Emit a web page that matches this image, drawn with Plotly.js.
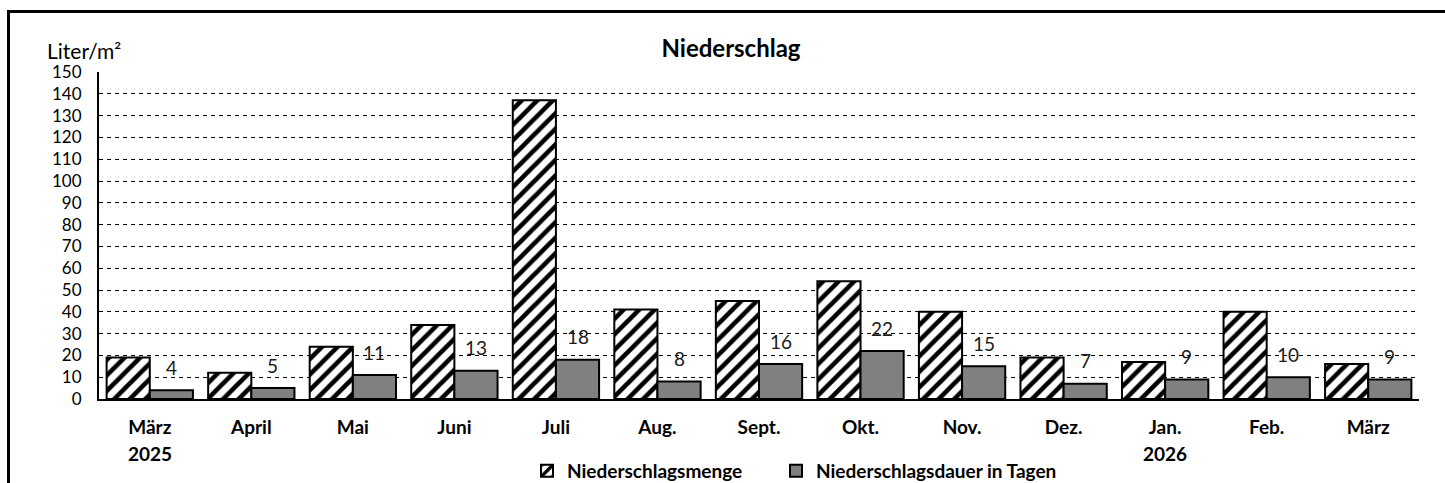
<!DOCTYPE html>
<html>
<head>
<meta charset="utf-8">
<script src="https://cdn.plot.ly/plotly-3.0.1.min.js"></script>
<style>
  html, body { margin: 0; padding: 0; background: #fff; }
  #wrap { position: relative; width: 1445px; height: 483px; overflow: hidden; }
  #chart { width: 1445px; height: 483px; }
  #frame { position: absolute; left: 7px; top: 10px; width: 1500px; height: 600px;
           border-left: 3px solid #000; border-top: 3px solid #000; pointer-events: none; }
</style>
</head>
<body>
<div id="wrap">
  <div id="chart"></div>
  <div id="frame"></div>
</div>
<script>
const months = ["März","April","Mai","Juni","Juli","Aug.","Sept.","Okt.","Nov.","Dez.","Jan.","Feb.","März"];
const years  = ["2025","","","","","","","","","","2026","",""];
const menge  = [19, 12, 24, 34, 137, 41, 45, 54, 40, 19, 17, 40, 16];
const dauer  = [4, 5, 11, 13, 18, 8, 16, 22, 15, 7, 9, 10, 9];
const yTicks = [0,10,20,30,40,50,60,70,80,90,100,110,120,130,140,150];

const idx = months.map((_, i) => i);
const FONT = "Lato, 'Open Sans', sans-serif";

const traces = [
  {
    type: "bar", name: "Niederschlagsmenge", x: idx, y: menge, legend: "legend",
    marker: {
      color: "#ffffff",
      line: { color: "#000", width: 2 },
      pattern: { shape: "/", fgcolor: "#000", bgcolor: "#fff", size: 11, solidity: 0.42 }
    },
    hoverinfo: "skip"
  },
  {
    type: "bar", name: "Niederschlagsdauer in Tagen", x: idx, y: dauer, legend: "legend2",
    marker: { color: "#808080", line: { color: "#000", width: 2 } },
    hoverinfo: "skip"
  }
];

const annotations = [];
dauer.forEach((v, i) => {
  annotations.push({
    x: i + 0.2125, y: v, xref: "x", yref: "y", text: String(v),
    showarrow: false, yanchor: "middle", yshift: 23,
    font: { family: FONT, size: 19, color: "#1a1a1a" }
  });
});
years.forEach((yr, i) => {
  if (!yr) return;
  annotations.push({
    x: i, y: 0, xref: "x", yref: "y", text: "<b>" + yr + "</b>",
    showarrow: false, yanchor: "middle", yshift: -54,
    font: { family: FONT, size: 19, color: "#000" }
  });
});
annotations.push({
  x: -54 / 1320, y: 1.067, xref: "paper", yref: "paper", xanchor: "left", yanchor: "middle",
  text: "Liter/m²", showarrow: false,
  font: { family: FONT, size: 21, color: "#000" }
});

const legendFont = { family: FONT, size: 19, color: "#000", weight: "bold" };
const layout = {
  width: 1445, height: 483,
  margin: { l: 99, r: 26, t: 72, b: 84, pad: 0, autoexpand: false },
  paper_bgcolor: "#fff", plot_bgcolor: "#fff",
  font: { family: FONT, color: "#000" },
  title: {
    text: "<b>Niederschlag</b>", x: 731 / 1445, xref: "container", xanchor: "center",
    y: 1 - 49 / 483, yref: "container", yanchor: "middle",
    font: { family: FONT, size: 24, color: "#000" }
  },
  barmode: "group", bargap: 0.15, bargroupgap: 0,
  xaxis: {
    type: "linear", range: [-0.5, 12.5], tickvals: idx,
    ticktext: months.map(m => "<b>" + m + "</b>"),
    showgrid: false, zeroline: false, showline: true, linecolor: "#000", linewidth: 2,
    ticks: "", ticklabelstandoff: 10,
    tickfont: { family: FONT, size: 19, color: "#000" }
  },
  yaxis: {
    range: [0, 150], tickvals: yTicks, ticktext: yTicks.map(String),
    showgrid: true, gridcolor: "#000", gridwidth: 1, griddash: "4px,4px",
    zeroline: false, showline: true, linecolor: "#000", linewidth: 2,
    ticks: "", ticklabelstandoff: 12,
    tickfont: { family: FONT, size: 17, color: "#000" }
  },
  showlegend: true,
  legend: {
    orientation: "h", x: (527 - 99) / 1320, xanchor: "left", y: (399 - 471) / 327, yanchor: "middle",
    itemwidth: 30, font: legendFont, bgcolor: "rgba(0,0,0,0)"
  },
  legend2: {
    orientation: "h", x: (776 - 99) / 1320, xanchor: "left", y: (399 - 471) / 327, yanchor: "middle",
    itemwidth: 30, font: legendFont, bgcolor: "rgba(0,0,0,0)"
  },
  annotations: annotations
};

Plotly.newPlot("chart", traces, layout, { displayModeBar: false, staticPlot: true });
</script>
</body>
</html>
